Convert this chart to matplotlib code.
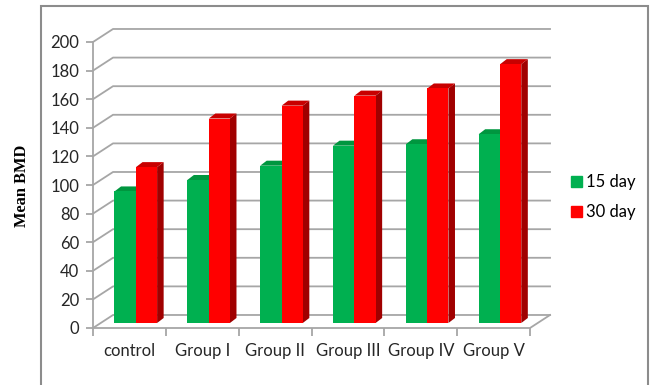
import matplotlib.pyplot as plt
from matplotlib.patches import Polygon, Patch, Rectangle

# Data
groups = ["control", "Group I", "Group II", "Group III", "Group IV", "Group V"]
day15 = [92, 100, 110, 124, 125, 132]
day30 = [109, 143, 152, 159, 164, 181]
yticks = list(range(0, 201, 20))

green, green_top, green_side = "#00b050", "#00963f", "#007a33"
red, red_top, red_side = "#ff0000", "#c80000", "#a00000"
grid_c = "#a6a6a6"

plt.rcParams["font.family"] = ["Lato", "DejaVu Sans"]

fig = plt.figure(figsize=(6.53, 3.85), dpi=100)
# front plane of the pseudo 3D box
ax = fig.add_axes([93 / 653, 57 / 385, 437 / 653, 286 / 385])
ax.set_xlim(0, len(groups))
ax.set_ylim(0, 200)
for s in ax.spines.values():
    s.set_visible(False)
ax.patch.set_alpha(0)

# depth offsets in data units
wall_dx, wall_dy = 0.275, 9.1
bar_dx, bar_dy = 0.09, 3.5
base = 3.5
n = len(groups)

# back wall gridlines
for v in yticks:
    ax.plot([0, wall_dx, n + wall_dx], [v, v + wall_dy, v + wall_dy],
            color=grid_c, lw=1.3, clip_on=False, zorder=1)
ax.plot([0, 0], [0, 200], color=grid_c, lw=1.3, clip_on=False, zorder=1)
ax.plot([0, n, n + wall_dx], [0, 0, wall_dy], color=grid_c, lw=1.3,
        clip_on=False, zorder=1)


def bar3d(x0, w, h, front, top, side):
    x1 = x0 + w
    ax.add_patch(Polygon([(x1, base), (x1, base + h), (x1 + bar_dx, base + h + bar_dy),
                          (x1 + bar_dx, base + bar_dy)], closed=True,
                         facecolor=side, edgecolor="none", zorder=3, clip_on=False))
    ax.add_patch(Polygon([(x0, base + h), (x1, base + h), (x1 + bar_dx, base + h + bar_dy),
                          (x0 + bar_dx, base + h + bar_dy)], closed=True,
                         facecolor=top, edgecolor="none", zorder=3, clip_on=False))
    ax.bar(x0, h, width=w, bottom=base, align="edge", color=front,
           zorder=4, clip_on=False)


for i in range(n):
    bar3d(i + 0.295, 0.295, day15[i], green, green_top, green_side)
    bar3d(i + 0.59, 0.29, day30[i], red, red_top, red_side)

ax.set_yticks(yticks)
ax.tick_params(axis="y", length=5, width=1.3, color=grid_c, pad=5,
               labelsize=12, labelcolor="#262626")
ax.set_xticks(range(n + 1))
ax.set_xticklabels([])
ax.tick_params(axis="x", which="major", length=6, width=1.3, color=grid_c)
ax.set_xticks([i + 0.5 for i in range(n)], minor=True)
ax.set_xticklabels(groups, minor=True)
ax.tick_params(axis="x", which="minor", length=0, pad=11, labelsize=12,
               labelcolor="#262626")

fig.text(22.5 / 653, 1 - 185.5 / 385, "Mean BMD", rotation=90, ha="center",
         va="center", fontsize=11.8, fontweight="bold",
         family=["Liberation Serif", "DejaVu Serif"])

handles = [Patch(color=green, label="15 day"), Patch(color=red, label="30 day")]
fig.legend(handles=handles, loc="center left", bbox_to_anchor=(571 / 653, 1 - 197 / 385),
           frameon=False, fontsize=12, handlelength=0.65, handleheight=0.65,
           handletextpad=0.25, labelspacing=0.85, borderpad=0, borderaxespad=0)

# outer chart border
fig.patches.append(Rectangle((41 / 653, -0.1), 607 / 653, 1.1 - 6 / 385,
                             transform=fig.transFigure, fill=False,
                             edgecolor="#8c8c8c", lw=1.5))

fig.savefig("out.png", dpi=100)
